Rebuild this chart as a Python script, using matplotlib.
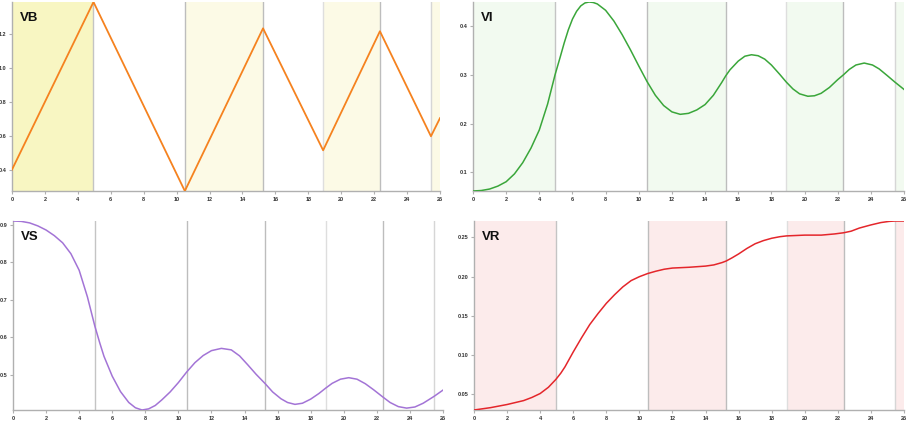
import matplotlib.pyplot as plt
import numpy as np

plt.rcParams['font.family'] = ['Liberation Sans', 'DejaVu Sans']

# phase boundaries (x)
bounds = [4.95, 10.5, 15.25, 18.9, 22.35, 25.45]
x_max = 26

# VB - piecewise linear
vb_x = [0, 4.95, 10.5, 15.25, 18.9, 22.35, 25.45, 26]
vb_y = [0.405, 1.385, 0.28, 1.231, 0.518, 1.214, 0.60, 0.706]

# VI
vi_x = [0, 0.5, 1, 1.5, 2, 2.5, 3, 3.5, 4, 4.5, 4.95, 5.25, 5.5, 5.75, 6, 6.25, 6.5, 6.75, 7,
        7.25, 7.5, 8, 8.5, 9, 9.5, 10, 10.5, 11, 11.5, 12, 12.5, 13, 13.5, 14, 14.5, 15,
        15.25, 15.5, 16, 16.4, 16.8, 17.2, 17.6, 18, 18.5, 18.9, 19.3, 19.7, 20.2, 20.6,
        21, 21.5, 22, 22.35, 22.7, 23.1, 23.6, 24.1, 24.5, 25, 25.45, 26]
vi_y = [0.062, 0.063, 0.066, 0.072, 0.081, 0.097, 0.120, 0.150, 0.187, 0.240, 0.300, 0.335,
        0.365, 0.392, 0.414, 0.430, 0.441, 0.447, 0.449, 0.448, 0.445, 0.432, 0.410, 0.382,
        0.351, 0.318, 0.286, 0.258, 0.237, 0.224, 0.219, 0.221, 0.228, 0.239, 0.258, 0.284,
        0.298, 0.310, 0.328, 0.338, 0.341, 0.339, 0.332, 0.320, 0.301, 0.285, 0.271, 0.261,
        0.256, 0.257, 0.262, 0.274, 0.290, 0.300, 0.311, 0.320, 0.324, 0.320, 0.312, 0.298,
        0.285, 0.270]

# VS
vs_x = [0, 0.5, 1, 1.5, 2, 2.5, 3, 3.5, 4, 4.5, 4.95, 5.25, 5.5, 6, 6.5, 7, 7.4, 7.8, 8.2,
        8.6, 9, 9.5, 10, 10.5, 11, 11.5, 12, 12.6, 13.2, 13.7, 14.2, 14.7, 15.25, 15.7, 16.2,
        16.6, 17.05, 17.5, 18, 18.5, 18.9, 19.3, 19.8, 20.3, 20.8, 21.3, 21.8, 22.35, 22.8,
        23.3, 23.8, 24.3, 24.8, 25.45, 26]
vs_y = [0.910, 0.909, 0.905, 0.897, 0.886, 0.871, 0.852, 0.823, 0.779, 0.708, 0.630, 0.585,
        0.550, 0.497, 0.456, 0.427, 0.413, 0.407, 0.410, 0.419, 0.434, 0.455, 0.480, 0.508,
        0.533, 0.552, 0.565, 0.571, 0.567, 0.551, 0.527, 0.502, 0.477, 0.455, 0.437, 0.427,
        0.422, 0.425, 0.436, 0.451, 0.465, 0.478, 0.489, 0.493, 0.489, 0.477, 0.461, 0.442,
        0.427, 0.416, 0.412, 0.415, 0.425, 0.443, 0.460]

# VR
vr_x = [0, 1, 2, 3, 3.5, 4, 4.5, 4.95, 5.25, 5.5, 6, 6.5, 7, 7.5, 8, 8.5, 9, 9.5, 10, 10.5,
        11, 11.5, 12, 13, 14, 14.5, 15, 15.25, 15.6, 16, 16.5, 17, 17.5, 18, 18.5, 18.9, 20,
        21, 21.8, 22.35, 22.8, 23.3, 24, 24.6, 25.1, 25.45, 26]
vr_y = [0.030, 0.033, 0.037, 0.042, 0.046, 0.051, 0.059, 0.069, 0.077, 0.085, 0.104, 0.122,
        0.139, 0.153, 0.166, 0.177, 0.187, 0.195, 0.200, 0.204, 0.207, 0.2095, 0.211, 0.212,
        0.2135, 0.215, 0.218, 0.220, 0.224, 0.229, 0.236, 0.242, 0.246, 0.249, 0.251, 0.252,
        0.253, 0.253, 0.2545, 0.256, 0.258, 0.262, 0.266, 0.269, 0.2705, 0.271, 0.271]

line_cols = ['#c4c4c4', '#bdbdbd', '#bdbdbd', '#dedede', '#bdbdbd', '#d6d6d6']

W, H = 913, 426
fig = plt.figure(figsize=(W / 100, H / 100), dpi=100)

panels = [
    # name, x, y, color, lw, shade colours (per shaded band), yticks, fmt, rect(px: left, top, right, bottom)
    ('VB', vb_x, vb_y, '#f5821f', 1.3, ['#f8f6c2', '#fcfae6', '#fcfae6', '#fcfae6'],
     [0.4, 0.6, 0.8, 1.0, 1.2], '%.1f', (12, 2, 440, 191)),
    ('VI', vi_x, vi_y, '#3aa63a', 1.1, ['#f2faf0'] * 4,
     [0.1, 0.2, 0.3, 0.4], '%.1f', (473, 2, 904, 191)),
    ('VS', vs_x, vs_y, '#a374d6', 1.1, None,
     [0.5, 0.6, 0.7, 0.8, 0.9], '%.1f', (13, 221, 443, 410)),
    ('VR', vr_x, vr_y, '#e4262b', 1.1, ['#fcebeb'] * 4,
     [0.05, 0.10, 0.15, 0.20, 0.25], '%.2f', (474, 221, 904, 410)),
]

for name, xs, ys, col, lw, shades, yt, fmt, (l, t, r, b) in panels:
    ax = fig.add_axes([l / W, 1 - b / H, (r - l) / W, (b - t) / H])
    ymin, ymax = min(ys), max(ys)
    if shades:
        edges = [0] + bounds + [x_max]
        for k, i in enumerate(range(0, len(edges) - 1, 2)):
            ax.axvspan(edges[i], edges[i + 1], color=shades[k], lw=0, zorder=0)
    for bx, c in zip(bounds, line_cols):
        ax.axvline(bx, color=c, lw=1.0, zorder=1)
    ax.plot(xs, ys, color=col, lw=lw, zorder=3, solid_joinstyle='round')
    ax.set_xlim(0, x_max)
    ax.set_ylim(ymin, ymax)
    ax.set_xticks(np.arange(0, 27, 2))
    ax.set_yticks(yt)
    ax.set_yticklabels([fmt % v for v in yt])
    for s in ['top', 'right']:
        ax.spines[s].set_visible(False)
    for s in ['left', 'bottom']:
        ax.spines[s].set_color('#b0b0b0')
        ax.spines[s].set_linewidth(1.0)
    ax.tick_params(length=2, width=0.8, color='#b0b0b0', labelsize=4, pad=2,
                   labelcolor='#333333')
    for lab in ax.get_xticklabels() + ax.get_yticklabels():
        lab.set_fontweight('bold')
    ax.text(0.019, 0.915, name, transform=ax.transAxes, fontsize=9.5,
            fontweight='bold', va='center', ha='left', color='#111111', zorder=5)
    ax.set_facecolor('white')

fig.savefig('out.png', dpi=100)
